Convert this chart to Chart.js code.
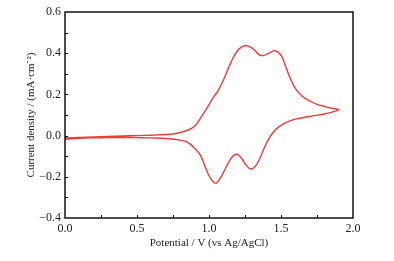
<!DOCTYPE html>
<html>
<head>
<meta charset="utf-8">
<script src="https://cdn.jsdelivr.net/npm/chart.js@4"></script>
<style>
  html, body { margin: 0; padding: 0; background: #fff; }
  #wrap { width: 394px; height: 261px; }
</style>
</head>
<body>
<div id="wrap"><canvas id="cv"></canvas></div>
<script>
// forward (anodic) scan
const potentialFwd = [0.00, 0.10, 0.20, 0.30, 0.40, 0.50, 0.60, 0.70, 0.75, 0.80, 0.85, 0.90, 0.95, 1.00, 1.03, 1.06, 1.10, 1.15, 1.20, 1.25, 1.30, 1.35, 1.38, 1.42, 1.46, 1.50, 1.53, 1.56, 1.60, 1.65, 1.70, 1.75, 1.80, 1.85, 1.90];
const currentFwd = [-0.012, -0.009, -0.006, -0.004, -0.002, 0.000, 0.002, 0.005, 0.008, 0.015, 0.026, 0.045, 0.095, 0.150, 0.185, 0.215, 0.270, 0.352, 0.414, 0.437, 0.425, 0.392, 0.389, 0.402, 0.412, 0.390, 0.340, 0.285, 0.228, 0.190, 0.168, 0.152, 0.142, 0.133, 0.125];
// reverse (cathodic) scan
const potentialRev = [1.85, 1.80, 1.70, 1.60, 1.55, 1.50, 1.45, 1.40, 1.35, 1.32, 1.29, 1.26, 1.23, 1.20, 1.17, 1.14, 1.10, 1.07, 1.05, 1.03, 1.00, 0.97, 0.94, 0.90, 0.85, 0.80, 0.70, 0.60, 0.50, 0.40, 0.30, 0.20, 0.10, 0.00];
const currentRev = [0.113, 0.105, 0.093, 0.080, 0.068, 0.050, 0.020, -0.035, -0.115, -0.150, -0.162, -0.145, -0.115, -0.092, -0.097, -0.125, -0.180, -0.215, -0.230, -0.225, -0.195, -0.145, -0.095, -0.062, -0.032, -0.022, -0.014, -0.011, -0.010, -0.009, -0.010, -0.011, -0.013, -0.017];

const xTicks = [0.0, 0.5, 1.0, 1.5, 2.0];
const yTicks = [-0.4, -0.2, 0.0, 0.2, 0.4, 0.6];

const points = [];
potentialFwd.forEach((v, i) => points.push({ x: v, y: currentFwd[i] }));
potentialRev.forEach((v, i) => points.push({ x: v, y: currentRev[i] }));

const FONT = "'Liberation Serif', 'Times New Roman', serif";

function fmt(v) {
    const s = Math.abs(v).toFixed(1);
    return v < -1e-9 ? '\u2212' + s : s;
}

// box frame + inward ticks (major and minor)
const framePlugin = {
    id: 'frame',
    afterDraw: function(chart) {
        const ctx = chart.ctx;
        const a = chart.chartArea;
        const xs = chart.scales.x, ys = chart.scales.y;
        ctx.save();
        ctx.strokeStyle = '#000';
        ctx.lineWidth = 1;
        ctx.beginPath();
        for (let v = 0.25; v < 2.0; v += 0.25) {
            const px = Math.round(xs.getPixelForValue(v)) + 0.5;
            ctx.moveTo(px, a.bottom);
            ctx.lineTo(px, a.bottom - 3);
        }
        for (let v = -0.3; v < 0.6; v += 0.1) {
            const py = Math.round(ys.getPixelForValue(v)) + 0.5;
            ctx.moveTo(a.left, py);
            ctx.lineTo(a.left + 3, py);
        }
        ctx.stroke();
        ctx.lineWidth = 1.4;
        ctx.strokeRect(a.left, a.top, a.right - a.left, a.bottom - a.top);
        ctx.restore();
    }
};

new Chart(document.getElementById('cv'), {
    type: 'scatter',
    data: {
        datasets: [{
            data: points,
            showLine: true,
            borderColor: '#f03a36',
            borderWidth: 1.4,
            pointRadius: 0,
            tension: 0.4,
            fill: false
        }]
    },
    options: {
        responsive: true,
        maintainAspectRatio: false,
        animation: false,
        layout: { padding: { left: 25, right: 41, top: 12, bottom: 11 } },
        plugins: { legend: { display: false }, tooltip: { enabled: false } },
        scales: {
            x: {
                type: 'linear',
                min: 0, max: 2.0,
                afterBuildTicks: function(s) { s.ticks = xTicks.map(v => ({ value: v })); },
                afterFit: function(s) { s.height = 32; },
                grid: { display: false, drawTicks: false },
                border: { display: false },
                ticks: {
                    color: '#222', padding: 4,
                    font: { family: FONT, size: 12 },
                    callback: v => fmt(v)
                },
                title: {
                    display: true, text: 'Potential / V (vs Ag/AgCl)',
                    color: '#222', padding: 0,
                    font: { family: FONT, size: 11 }
                }
            },
            y: {
                type: 'linear',
                min: -0.4, max: 0.6,
                afterBuildTicks: function(s) { s.ticks = yTicks.map(v => ({ value: v })); },
                afterFit: function(s) { s.width = 40; },
                grid: { display: false, drawTicks: false },
                border: { display: false },
                ticks: {
                    color: '#222', padding: 4,
                    font: { family: FONT, size: 12 },
                    callback: v => fmt(v)
                },
                title: {
                    display: true, text: 'Current density / (mA\u00b7cm\u207b\u00b2)',
                    color: '#222', padding: 0,
                    font: { family: FONT, size: 11 }
                }
            }
        }
    },
    plugins: [framePlugin]
});
</script>
</body>
</html>
